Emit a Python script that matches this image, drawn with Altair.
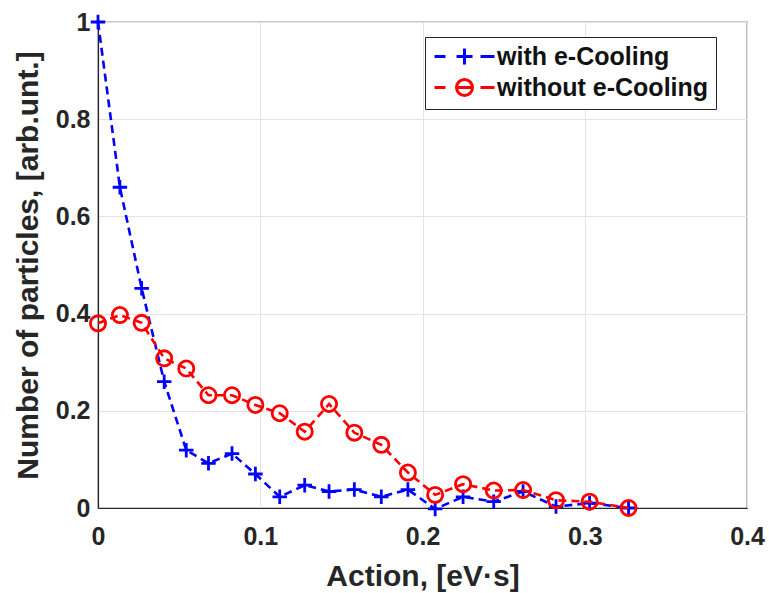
import altair as alt
import pandas as pd

action = [0.0, 0.0135, 0.0269, 0.0408, 0.0544, 0.0681, 0.0826, 0.0970, 0.1120, 0.1274,
          0.1424, 0.1580, 0.1746, 0.1910, 0.2078, 0.2250, 0.2439, 0.2620, 0.2823, 0.3030, 0.3270]
with_cooling = [1.0, 0.66, 0.452, 0.26, 0.119, 0.092, 0.112, 0.070, 0.023, 0.047,
                0.034, 0.038, 0.023, 0.038, -0.002, 0.023, 0.013, 0.034, 0.003, 0.010, 0.0]
without_cooling = [0.38, 0.397, 0.381, 0.308, 0.287, 0.232, 0.232, 0.212, 0.195, 0.157,
                   0.214, 0.155, 0.130, 0.073, 0.027, 0.049, 0.036, 0.037, 0.016, 0.013, 0.0]
series_names = ["with e-Cooling", "without e-Cooling"]
x_ticks = [0, 0.1, 0.2, 0.3, 0.4]
y_ticks = [0, 0.2, 0.4, 0.6, 0.8, 1.0]

rows = []
for a, w, wo in zip(action, with_cooling, without_cooling):
    rows.append({"action": a, "value": w, "series": series_names[0]})
    rows.append({"action": a, "value": wo, "series": series_names[1]})
df = pd.DataFrame(rows)

FONT = "Liberation Sans"
BLUE = "#0000ff"
RED = "#ff0000"
PLUS = "M-1,0L1,0M0,-1L0,1"
# legend glyphs: dash - marker - dash (unit = 10 px with symbol size 400)
LEG_PLUS = "M-3,0L-1.9,0M-0.8,0L0.8,0M0,-0.8L0,0.8M1.6,0L3,0"
LEG_CIRC = ("M-3,0L-1.9,0M-0.8,0A0.8,0.8 0 1,1 0.8,0A0.8,0.8 0 1,1 -0.8,0"
            "M-0.8,0L0.8,0M1.6,0L3,0")

x = alt.X("action:Q", scale=alt.Scale(domain=[0, 0.4], nice=False),
          axis=alt.Axis(values=x_ticks, format="~g", title="Action, [eV·s]",
                        labelPadding=16, titleX=324.5, titleY=77, labelFlush=False,
                        titleBaseline="alphabetic"))
y = alt.Y("value:Q", scale=alt.Scale(domain=[0, 1], nice=False),
          axis=alt.Axis(values=y_ticks, format="~g", title="Number of particles, [arb.unt.]",
                        labelPadding=8, titleX=-61, titleY=243, labelFlush=False,
                        titleBaseline="alphabetic", titleAlign="center"))

base = alt.Chart(df)


def series_layers(name, color, shape, size):
    sub = base.transform_filter(alt.datum.series == name)
    line = sub.mark_line(color=color, strokeWidth=2.6, strokeDash=[8, 5], clip=False).encode(x=x, y=y)
    pts = sub.mark_point(color=color, shape=shape, filled=False, strokeWidth=2.8,
                         size=size, opacity=1, clip=False).encode(x=x, y=y)
    return [line, pts]


leg = dict(title=None, orient="none", legendX=327, legendY=15,
           strokeColor="#262626", fillColor="white",
           padding=7, labelFontSize=25, labelFont=FONT,
           labelFontWeight="bold", labelColor="#111111",
           symbolSize=400, symbolStrokeWidth=3, symbolOffset=20,
           labelOffset=20, rowPadding=2, labelLimit=400)

legend_layer = base.transform_filter(alt.datum.value < -5).mark_point(
    filled=False, strokeWidth=3, size=400, opacity=1
).encode(
    x=x, y=y,
    color=alt.Color("series:N", scale=alt.Scale(domain=series_names, range=[BLUE, RED]),
                    legend=alt.Legend(**leg)),
    shape=alt.Shape("series:N", scale=alt.Scale(domain=series_names, range=[LEG_PLUS, LEG_CIRC]),
                    legend=alt.Legend(**leg)),
)

layers = series_layers(series_names[0], BLUE, PLUS, 210) + \
    series_layers(series_names[1], RED, "circle", 230) + [legend_layer]

chart = alt.layer(*layers).properties(
    width=649, height=486,
    autosize=alt.AutoSizeParams(type="none"),
    padding={"left": 98, "top": 22, "right": 22, "bottom": 85},
    background="white",
).configure_view(
    stroke="#262626", strokeWidth=1.2
).configure_axis(
    labelFont=FONT, labelFontSize=25, labelFontWeight="bold", labelColor="#262626",
    titleFont=FONT, titleFontSize=30, titleFontWeight="bold", titleColor="#262626",
    grid=True, gridColor="#e3e3e3", gridWidth=1,
    domainColor="#262626", domainWidth=1.2,
    tickSize=0,
)

chart.save("out.html", embed_options={"renderer": "svg", "actions": False})
